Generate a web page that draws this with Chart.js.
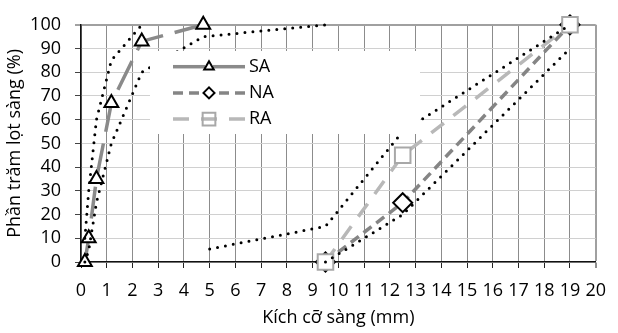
<!DOCTYPE html>
<html>
<head>
<meta charset="utf-8">
<script src="https://cdn.jsdelivr.net/npm/chart.js@4.4.1/dist/chart.umd.min.js"></script>
<style>
  html, body { margin: 0; padding: 0; background: #fff; }
  #wrap { width: 618px; height: 333px; }
</style>
</head>
<body>
<div id="wrap"><canvas id="c" width="618" height="333"></canvas></div>
<script>
// Sieve sizes (mm) and percent passing
const sieveSA = [0.15, 0.3, 0.6, 1.18, 2.36, 4.75];
const passSA = [0, 10, 35, 67, 93, 100];

const sieveCoarse = [9.5, 12.5, 19];
const passNA = [0, 25, 100];
const passRA = [0, 45, 100];

// Grading envelopes (dotted)
const fineLowSieve = [0.15, 0.3, 0.6, 1.18, 2.36, 4.75, 9.5];
const fineLow = [0, 5, 25, 50, 80, 95, 100];
const fineUpSieve = [0.15, 0.3, 0.6, 1.18, 2.36];
const fineUp = [10, 30, 60, 85, 100];
const coarseUpSieve = [5, 9.5, 12.5, 19];
const coarseUp = [5.5, 15, 55, 100];
const coarseLowSieve = [9.5, 12.5, 19];
const coarseLow = [0, 20, 90];

const xTicks = { min: 0, max: 20, step: 1 };
const yTicks = { min: 0, max: 100, step: 10 };

const xTitle = 'Kích cỡ sàng (mm)';
const yTitle = 'Phần trăm lọt sàng (%)';

const FONT = "'Open Sans', sans-serif";
const pts = (xs, ys) => xs.map((x, i) => ({ x: x, y: ys[i] }));

const dotted = (xs, ys) => ({
  label: '',
  data: pts(xs, ys),
  borderColor: '#000',
  borderWidth: 3,
  borderDash: [0, 8],
  borderCapStyle: 'round',
  pointRadius: 0,
  showLine: true,
  fill: false,
  order: -1
});

const seriesSA = {
  label: 'SA', data: pts(sieveSA, passSA),
  borderColor: '#8a8a8a', borderWidth: 3.5, borderDash: [32, 12],
  pointStyle: 'triangle', pointRadius: 8,
  pointBorderColor: '#000', pointBackgroundColor: '#fff', pointBorderWidth: 2,
  legendRadius: 5.5, legendFill: '#fff', order: 0
};
const seriesNA = {
  label: 'NA', data: pts(sieveCoarse, passNA),
  borderColor: '#858585', borderWidth: 3.5, borderDash: [10, 6],
  pointStyle: 'rectRot', pointRadius: 9.5,
  pointBorderColor: '#000', pointBackgroundColor: '#fff', pointBorderWidth: 2,
  legendRadius: 5.5, legendFill: '#fff', order: 2
};
const seriesRA = {
  label: 'RA', data: pts(sieveCoarse, passRA),
  borderColor: '#b8b8b8', borderWidth: 3.5, borderDash: [16, 12],
  pointStyle: 'rect', pointRadius: 11,
  pointBorderColor: '#a8a8a8', pointBackgroundColor: '#fff', pointBorderWidth: 2,
  legendRadius: 9, legendFill: 'rgba(0,0,0,0)', order: 1
};

// Legend drawn inside the plot on a white panel
const insideLegend = {
  id: 'insideLegend',
  afterDraw(chart) {
    const ctx = chart.ctx;
    const items = [seriesSA, seriesNA, seriesRA];
    const x0 = 173, x1 = 245, xm = 209, tx = 249, y0 = 66.7, dy = 26.2;
    ctx.save();
    ctx.fillStyle = '#fff';
    ctx.fillRect(150, 51, 270, 83);
    items.forEach((ds, i) => {
      const y = y0 + i * dy;
      ctx.strokeStyle = ds.borderColor;
      ctx.lineWidth = ds.borderWidth;
      ctx.lineCap = 'butt';
      ctx.setLineDash(ds.borderDash);
      ctx.beginPath(); ctx.moveTo(x0, y); ctx.lineTo(xm, y); ctx.stroke();
      ctx.beginPath(); ctx.moveTo(x1, y); ctx.lineTo(xm, y); ctx.stroke();
      ctx.setLineDash([]);
      ctx.fillStyle = ds.legendFill;
      ctx.strokeStyle = ds.pointBorderColor;
      ctx.lineWidth = ds.pointBorderWidth;
      Chart.helpers.drawPoint(ctx, { pointStyle: ds.pointStyle, radius: ds.legendRadius, rotation: 0, borderWidth: ds.pointBorderWidth }, xm, y);
      ctx.fillStyle = '#000';
      ctx.font = '18px ' + FONT;
      ctx.textAlign = 'left';
      ctx.textBaseline = 'middle';
      ctx.fillText(ds.label, tx, y);
    });
    ctx.restore();
  }
};

new Chart(document.getElementById('c'), {
  type: 'scatter',
  data: {
    datasets: [
      dotted(fineLowSieve, fineLow),
      dotted(fineUpSieve, fineUp),
      dotted(coarseUpSieve, coarseUp),
      dotted(coarseLowSieve, coarseLow),
      seriesSA, seriesNA, seriesRA
    ].map(d => Object.assign({ showLine: true, tension: 0, clip: false }, d))
  },
  options: {
    responsive: false,
    animation: false,
    devicePixelRatio: 1,
    layout: { padding: { left: 0, right: 12, top: 16, bottom: 0 } },
    plugins: { legend: { display: false }, tooltip: { enabled: false } },
    scales: {
      x: {
        type: 'linear', min: xTicks.min, max: xTicks.max,
        ticks: { stepSize: xTicks.step, color: '#000', font: { family: FONT, size: 18 }, padding: 12, maxRotation: 0, autoSkip: false },
        grid: {
          color: c => (c.tick && c.tick.value === xTicks.max) ? '#a0a0a0' : '#8c8c8c',
          lineWidth: c => (c.tick && c.tick.value === xTicks.max) ? 2 : 1,
          tickLength: 6, tickColor: '#222', tickWidth: 1
        },
        border: { color: '#111', width: 1.5 },
        title: { display: true, text: xTitle, color: '#000', font: { family: FONT, size: 18 }, padding: { top: 0, bottom: 4 } },
        afterFit: s => { s.height = 71; }
      },
      y: {
        type: 'linear', min: yTicks.min, max: yTicks.max,
        ticks: { stepSize: yTicks.step, color: '#000', font: { family: FONT, size: 18 }, padding: 14, autoSkip: false },
        grid: {
          color: c => (c.tick && c.tick.value === yTicks.max) ? '#a0a0a0' : '#d0d0d0',
          lineWidth: c => (c.tick && c.tick.value === yTicks.max) ? 2 : 1,
          tickLength: 6, tickColor: '#444', tickWidth: 1
        },
        border: { color: '#111', width: 1.5 },
        title: { display: true, text: yTitle, color: '#000', font: { family: FONT, size: 18 }, padding: { top: 4, bottom: 0 } },
        afterFit: s => { s.width = 81; }
      }
    }
  },
  plugins: [insideLegend]
});
</script>
</body>
</html>
